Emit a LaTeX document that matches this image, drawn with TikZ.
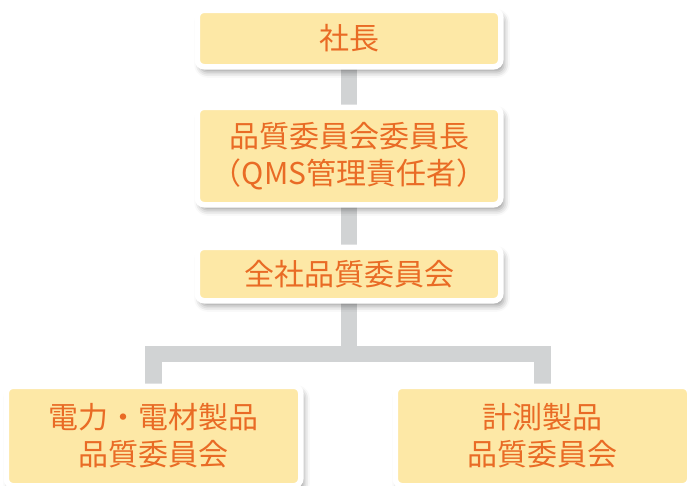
\documentclass[tikz,border=0pt]{standalone}
\usepackage{fontspec}
\setmainfont{Noto Sans CJK JP}
\usetikzlibrary{shadows.blur}
\definecolor{boxfill}{HTML}{FDE8A6}
\definecolor{txt}{HTML}{E96B25}
\definecolor{conn}{HTML}{D1D3D4}
\pgfdeclarelayer{bg}\pgfsetlayers{bg,main}
\tikzset{
  orgbox/.style={draw=white, line width=5.5pt, fill=boxfill, rounded corners=7pt,
    text=txt, font=\fontsize{30}{37}\selectfont, align=center, inner sep=0pt,
    blur shadow={shadow xshift=3pt, shadow yshift=-5pt, shadow blur radius=6pt, shadow opacity=40}},
  link/.style={draw=conn, line width=16.5pt}
}
\begin{document}
\begin{tikzpicture}[x=1pt,y=-1pt]
\useasboundingbox (0,0) rectangle (688,485);
\clip (0,0) rectangle (688,485);
\node[orgbox, minimum width=303.5pt, minimum height=56.5pt] (b1) at (349,38.5) {社長};
\node[orgbox, minimum width=303.5pt, minimum height=97.5pt] (b2) at (349,156) {品質委員会委員長\\\kern-0.55em（QMS管理責任者）\kern-0.55em};
\node[orgbox, minimum width=303.5pt, minimum height=53.5pt] (b3) at (349,274) {全社品質委員会};
\node[orgbox, minimum width=294.5pt, minimum height=99.5pt] (bl) at (153.5,436) {電力・電材製品\\品質委員会};
\node[orgbox, minimum width=294.5pt, minimum height=99.5pt] (br) at (542.5,436) {計測製品\\品質委員会};
\coordinate (split) at (349,354);
\begin{pgfonlayer}{bg}
\draw[link] (b1.center) -- (b2.center);
\draw[link] (b2.center) -- (b3.center);
\draw[link] (b3.center) -- (split);
\draw[link] (bl.center) |- (split) -| (br.center);
\end{pgfonlayer}
\end{tikzpicture}
\end{document}
